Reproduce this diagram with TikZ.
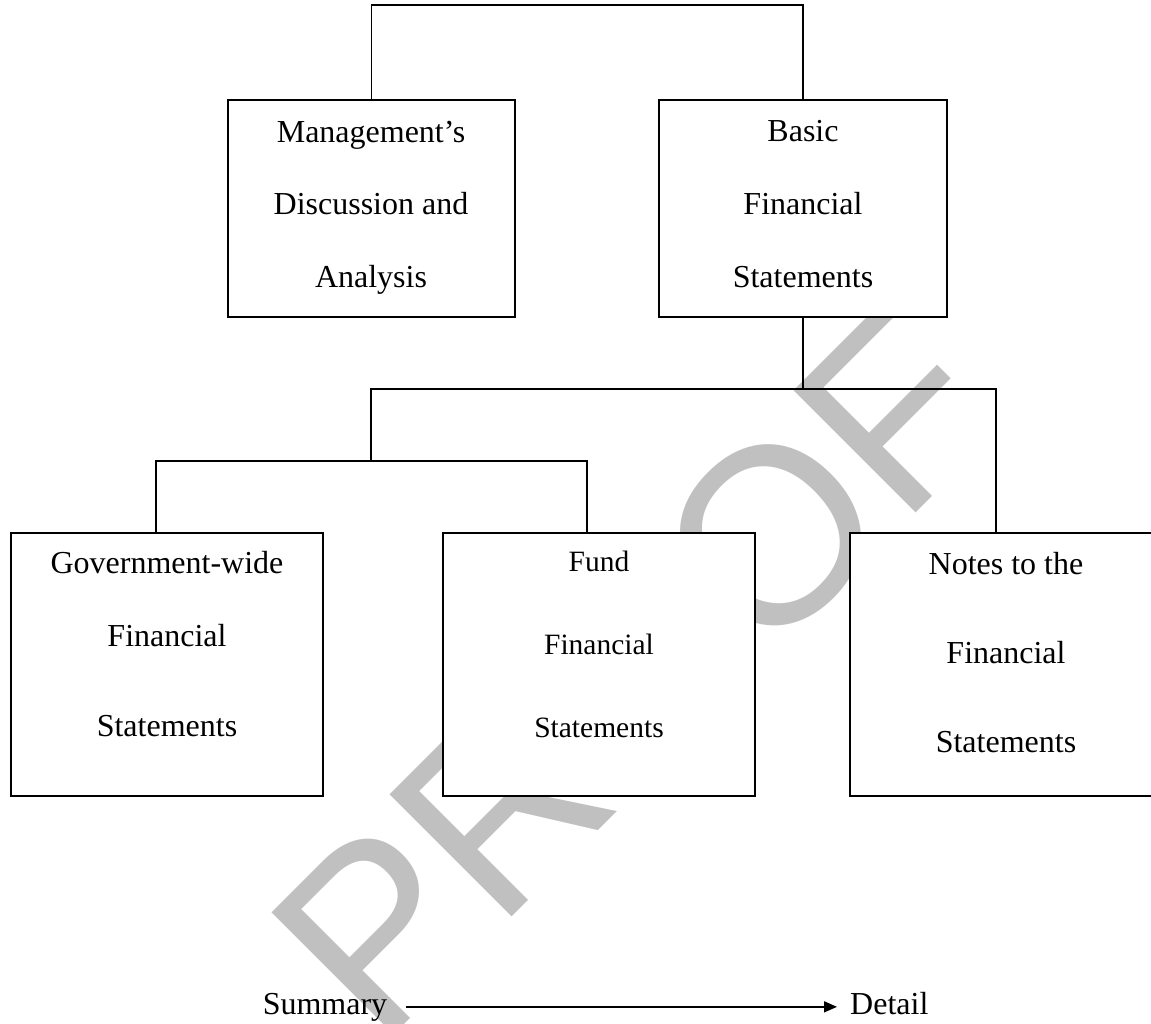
\documentclass[tikz,border=0pt]{standalone}
\usepackage{fontspec}
\setmainfont{Liberation Serif}
\newfontfamily\wmfont{Liberation Sans}
\usetikzlibrary{arrows.meta}
\definecolor{wmgray}{RGB}{192,192,192}
\tikzset{
  box/.style={draw, fill=white, line width=1.6pt, inner sep=0pt},
  conn/.style={line width=1.3pt},
  txt/.style={inner sep=0pt, anchor=base, font=\fontsize{32}{38}\selectfont},
  txtsm/.style={inner sep=0pt, anchor=base, font=\fontsize{29.5}{35}\selectfont},
  arr/.style={line width=1.6pt, -{Triangle[length=13pt,width=11pt]}}
}
\begin{document}
\begin{tikzpicture}[x=1pt,y=-1pt]
\useasboundingbox (0,0) rectangle (1151,1024);
\clip (0,0) rectangle (1151,1024);
% watermark
\node[inner sep=0pt, anchor=base west, rotate=45, text=wmgray,
      font=\wmfont\fontsize{251}{251}\selectfont] (wm) at (379,1050) {PROOF};
% connectors
\coordinate (t) at (587,5);
\coordinate (h1L) at (371,389);
\coordinate (h1R) at (996,389);
\coordinate (h2L) at (156,461);
\coordinate (h2R) at (587,461);
% boxes
\node[box, minimum width=287pt, minimum height=217pt] (mda) at (371.5,208.5) {};
\node[box, minimum width=288pt, minimum height=217pt] (bfs) at (803,208.5) {};
\node[box, minimum width=312pt, minimum height=263pt] (gov) at (167,664.5) {};
\node[box, minimum width=312pt, minimum height=263pt] (fund) at (599,664.5) {};
\node[box, minimum width=312pt, minimum height=263pt] (notes) at (1006,664.5) {};
\draw[conn] (mda.north) |- (t) -| (bfs.north);
\draw[conn] (bfs.south) -- (bfs.south |- h1L);
\draw[conn] (h1L |- h2L) -- (h1L) -- (h1R) -- (notes.north -| h1R);
\draw[conn] (gov.north -| h2L) -- (h2L) -- (h2R) -- (fund.north -| h2R);
% texts
\node[txt] (mda1) at (371,143) {Management’s};
\node[txt] (mda2) at (371,215) {Discussion and};
\node[txt] (mda3) at (371,288) {Analysis};
\node[txt] (bfs1) at (803,142) {Basic};
\node[txt] (bfs2) at (803,215) {Financial};
\node[txt] (bfs3) at (803,288) {Statements};
\node[txt] (gov1) at (167,573) {Government-wide};
\node[txt] (gov2) at (167,646) {Financial};
\node[txt] (gov3) at (167,736) {Statements};
\node[txtsm] (fund1) at (599,571) {Fund};
\node[txtsm] (fund2) at (599,654) {Financial};
\node[txtsm] (fund3) at (599,737) {Statements};
\node[txt] (notes1) at (1006,574) {Notes to the};
\node[txt] (notes2) at (1006,663) {Financial};
\node[txt] (notes3) at (1006,752) {Statements};
% summary -> detail
\node[txt] (summ) at (325,1014) {Summary};
\node[txt, anchor=base west] (det) at (850,1014) {Detail};
\draw[arr] ([xshift=19pt]summ.east) -- ([xshift=-13pt]summ.east -| det.west);
\end{tikzpicture}
\end{document}
